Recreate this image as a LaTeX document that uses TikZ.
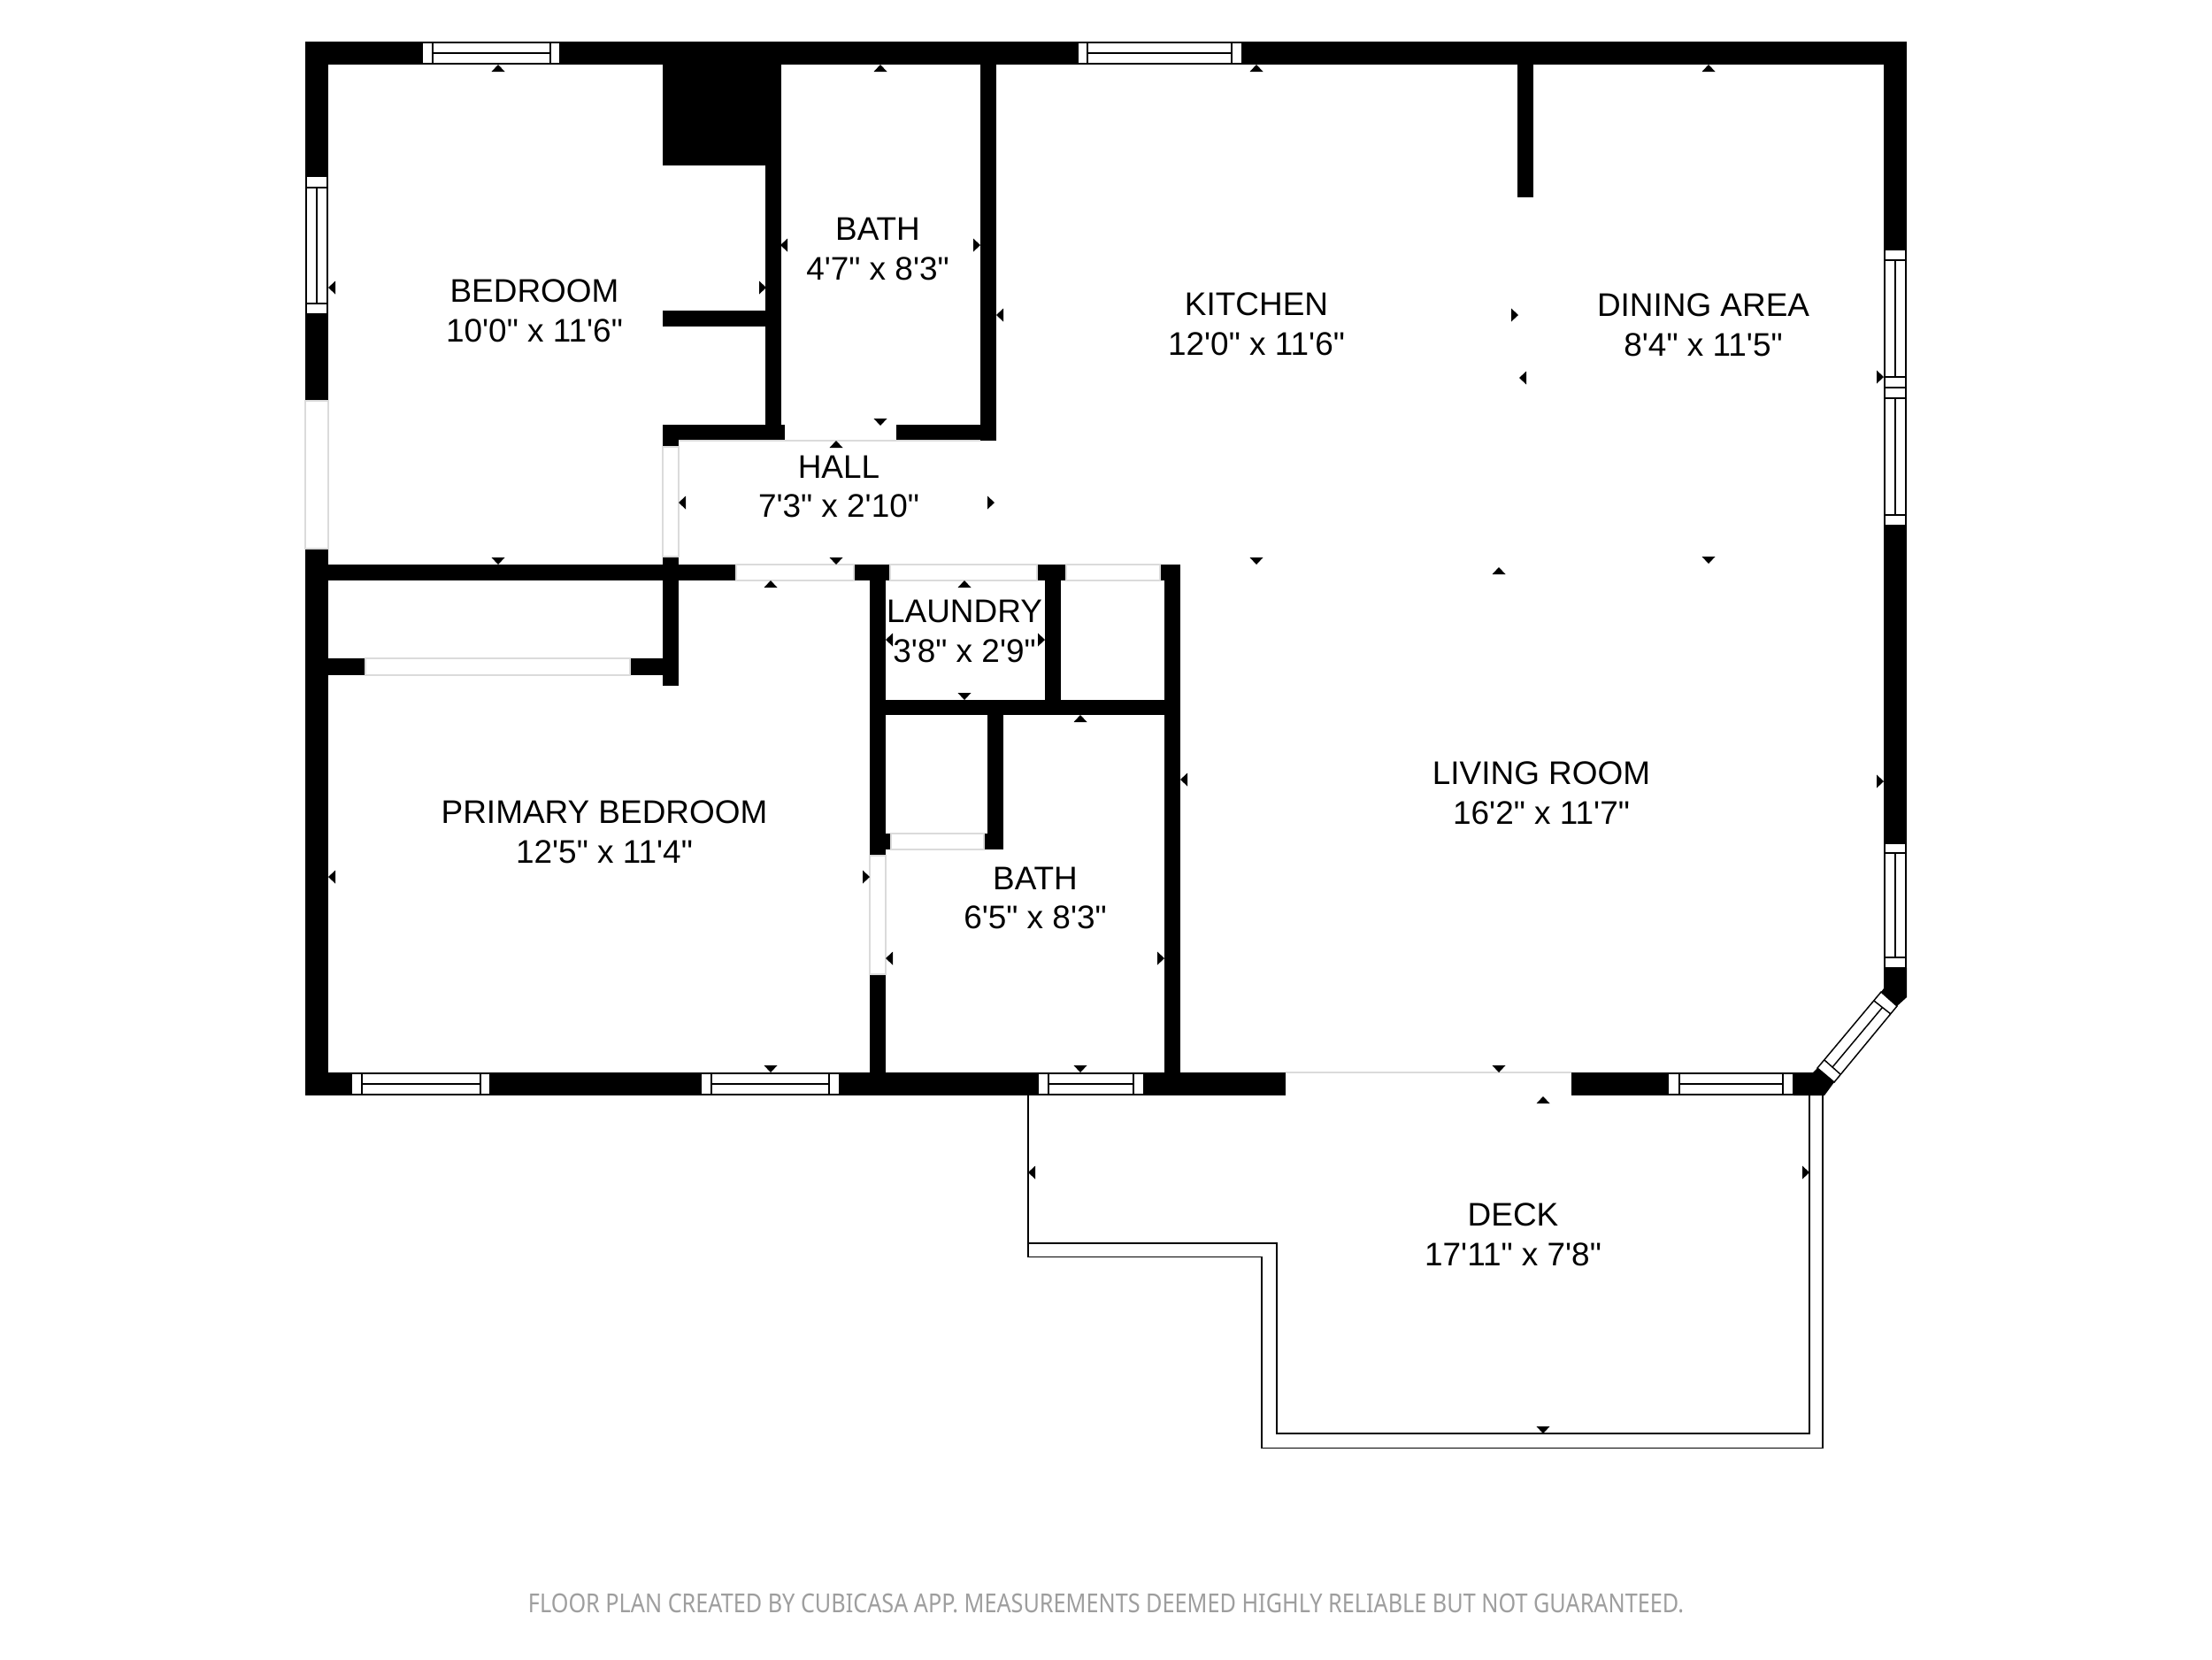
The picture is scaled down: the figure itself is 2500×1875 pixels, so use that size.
\documentclass[tikz,border=0pt]{standalone}
\usepackage{fontspec}
\newfontfamily\planfont{Liberation Sans}
\newfontfamily\notefont[FakeStretch=0.854]{Noto Sans}
\tikzset{
  wallpart/.style={fill=black},
  wallmark/.style={fill=black},
  pane/.style={draw=black,fill=white,line width=0.42pt},
  deckline/.style={draw=black,line width=0.5pt},
  doorline/.style={draw=black!14,line width=0.3pt},
  roomlabel/.style={font=\planfont\fontsize{10.5}{12.7}\selectfont,align=center,inner sep=0pt},
}
\begin{document}
\begin{tikzpicture}[x=0.01cm,y=-0.01cm]
\useasboundingbox (0,0) rectangle (2500,1875);

\draw[deckline] (1162,1238) -- (1162,1420.5) -- (1426,1420.5) -- (1426,1636.5) -- (2060,1636.5) -- (2060,1238);
\draw[deckline] (1162,1405) -- (1443,1405) -- (1443,1620) -- (2045,1620) -- (2045,1238);

\fill[wallpart] (345,47) rectangle (2155,73);
\fill[wallpart] (345,47) rectangle (371,453);
\fill[wallpart] (345,620) rectangle (371,1238);
\fill[wallpart] (345,1212) rectangle (1453,1238);
\fill[wallpart] (1776,1212) rectangle (2027,1238);
\fill[wallpart] (2129,47) rectangle (2155,1094);
\fill[wallpart] (2129,1094) -- (2155,1094) -- (2155,1127) -- (2144,1137) -- (2126,1121) -- (2129,1117) -- cycle;
\fill[wallpart] (2027,1212) -- (2049,1212) -- (2054,1207) -- (2073,1223) -- (2062,1238) -- (2027,1238) -- cycle;

\fill[wallpart] (749,73) rectangle (883,187);
\fill[wallpart] (865,187) rectangle (883,481);
\fill[wallpart] (749,351) rectangle (865,369);
\fill[wallpart] (749,480) rectangle (887,498);
\fill[wallpart] (749,498) rectangle (767,505);
\fill[wallpart] (1013,480) rectangle (1126,498);
\fill[wallpart] (1108,73) rectangle (1126,498);
\fill[wallpart] (1715,73) rectangle (1733,223);

\fill[wallpart] (371,638) rectangle (832,656);
\fill[wallpart] (749,629) rectangle (767,775);
\fill[wallpart] (371,744) rectangle (413,763);
\fill[wallpart] (712,744) rectangle (749,763);
\fill[wallpart] (965,638) rectangle (1006,656);
\fill[wallpart] (983,638) rectangle (1001,967);
\fill[wallpart] (1172,638) rectangle (1205,656);
\fill[wallpart] (1181,638) rectangle (1199,808);
\fill[wallpart] (1311,638) rectangle (1334,656);
\fill[wallpart] (1316,638) rectangle (1334,1238);
\fill[wallpart] (983,791) rectangle (1334,808);
\fill[wallpart] (1116,808) rectangle (1134,960);
\fill[wallpart] (1001,942) rectangle (1007,960);
\fill[wallpart] (1112,942) rectangle (1134,960);
\fill[wallpart] (983,1101) rectangle (1001,1238);

\draw[doorline] (345,453) rectangle (371,620);
\draw[doorline] (749,505) rectangle (767,629);
\draw[doorline] (767,498) -- (1108,498);
\draw[doorline] (832,638) rectangle (965,656);
\draw[doorline] (1006,638) rectangle (1172,656);
\draw[doorline] (1205,638) rectangle (1311,656);
\draw[doorline] (413,744) rectangle (712,763);
\draw[doorline] (1007,942) rectangle (1112,960);
\draw[doorline] (983,967) rectangle (1001,1101);
\draw[doorline] (1453,1212) -- (1776,1212);

\draw[pane] (477,48) rectangle (633,72) (489,48) -- (489,72) (622,48) -- (622,72) (489,60) -- (622,60);
\draw[pane] (1218,48) rectangle (1404,72) (1229,48) -- (1229,72) (1392,48) -- (1392,72) (1229,60) -- (1392,60);
\draw[pane] (346,199) rectangle (370,355) (346,212) -- (370,212) (346,343) -- (370,343) (358,212) -- (358,343);
\draw[pane] (2130,282) rectangle (2154,438) (2130,294) -- (2154,294) (2130,426) -- (2154,426) (2142,294) -- (2142,426);
\draw[pane] (2130,438) rectangle (2154,594) (2130,450) -- (2154,450) (2130,582) -- (2154,582) (2142,450) -- (2142,582);
\draw[pane] (2130,953) rectangle (2154,1094) (2130,964) -- (2154,964) (2130,1082) -- (2154,1082) (2142,964) -- (2142,1082);
\draw[pane] (397,1213) rectangle (554,1237) (409,1213) -- (409,1237) (543,1213) -- (543,1237) (409,1225) -- (543,1225);
\draw[pane] (792,1213) rectangle (949,1237) (804,1213) -- (804,1237) (937,1213) -- (937,1237) (804,1225) -- (937,1225);
\draw[pane] (1173,1213) rectangle (1293,1237) (1185,1213) -- (1185,1237) (1281,1213) -- (1281,1237) (1185,1225) -- (1281,1225);
\draw[pane] (1885,1213) rectangle (2027,1237) (1898,1213) -- (1898,1237) (2015,1213) -- (2015,1237) (1898,1225) -- (2015,1225);
\draw[pane] (2126,1121) -- (2144,1137) -- (2073,1223) -- (2054,1207) -- cycle (2118,1131) -- (2137,1146) (2062,1198) -- (2080,1214) (2127,1139) -- (2071,1206);

\fill[wallmark] (563,73) -- ++(-7.5,8) -- ++(15,0) -- cycle;
\fill[wallmark] (995,73) -- ++(-7.5,8) -- ++(15,0) -- cycle;
\fill[wallmark] (1420,73) -- ++(-7.5,8) -- ++(15,0) -- cycle;
\fill[wallmark] (1931,73) -- ++(-7.5,8) -- ++(15,0) -- cycle;
\fill[wallmark] (945,498) -- ++(-7.5,8) -- ++(15,0) -- cycle;
\fill[wallmark] (871,656) -- ++(-7.5,8) -- ++(15,0) -- cycle;
\fill[wallmark] (1090,656) -- ++(-7.5,8) -- ++(15,0) -- cycle;
\fill[wallmark] (1221,808) -- ++(-7.5,8) -- ++(15,0) -- cycle;
\fill[wallmark] (1694,641) -- ++(-7.5,8) -- ++(15,0) -- cycle;
\fill[wallmark] (1744,1239) -- ++(-7.5,8) -- ++(15,0) -- cycle;

\fill[wallmark] (995,481) -- ++(-7.5,-8) -- ++(15,0) -- cycle;
\fill[wallmark] (563,638) -- ++(-7.5,-8) -- ++(15,0) -- cycle;
\fill[wallmark] (945,638) -- ++(-7.5,-8) -- ++(15,0) -- cycle;
\fill[wallmark] (1420,638) -- ++(-7.5,-8) -- ++(15,0) -- cycle;
\fill[wallmark] (1931,637) -- ++(-7.5,-8) -- ++(15,0) -- cycle;
\fill[wallmark] (1090,791) -- ++(-7.5,-8) -- ++(15,0) -- cycle;
\fill[wallmark] (871,1212) -- ++(-7.5,-8) -- ++(15,0) -- cycle;
\fill[wallmark] (1221,1212) -- ++(-7.5,-8) -- ++(15,0) -- cycle;
\fill[wallmark] (1694,1212) -- ++(-7.5,-8) -- ++(15,0) -- cycle;
\fill[wallmark] (1744,1620) -- ++(-7.5,-8) -- ++(15,0) -- cycle;

\fill[wallmark] (371,325) -- ++(8,-7.5) -- ++(0,15) -- cycle;
\fill[wallmark] (882,277) -- ++(8,-7.5) -- ++(0,15) -- cycle;
\fill[wallmark] (1126,356) -- ++(8,-7.5) -- ++(0,15) -- cycle;
\fill[wallmark] (767,568) -- ++(8,-7.5) -- ++(0,15) -- cycle;
\fill[wallmark] (1001,723) -- ++(8,-7.5) -- ++(0,15) -- cycle;
\fill[wallmark] (1334,881) -- ++(8,-7.5) -- ++(0,15) -- cycle;
\fill[wallmark] (371,991) -- ++(8,-7.5) -- ++(0,15) -- cycle;
\fill[wallmark] (1001,1083) -- ++(8,-7.5) -- ++(0,15) -- cycle;
\fill[wallmark] (1717,427) -- ++(8,-7.5) -- ++(0,15) -- cycle;
\fill[wallmark] (1162,1325) -- ++(8,-7.5) -- ++(0,15) -- cycle;

\fill[wallmark] (866,325) -- ++(-8,-7.5) -- ++(0,15) -- cycle;
\fill[wallmark] (1108,277) -- ++(-8,-7.5) -- ++(0,15) -- cycle;
\fill[wallmark] (1124,568) -- ++(-8,-7.5) -- ++(0,15) -- cycle;
\fill[wallmark] (1181,723) -- ++(-8,-7.5) -- ++(0,15) -- cycle;
\fill[wallmark] (983,991) -- ++(-8,-7.5) -- ++(0,15) -- cycle;
\fill[wallmark] (1316,1083) -- ++(-8,-7.5) -- ++(0,15) -- cycle;
\fill[wallmark] (1716,356) -- ++(-8,-7.5) -- ++(0,15) -- cycle;
\fill[wallmark] (2129,426) -- ++(-8,-7.5) -- ++(0,15) -- cycle;
\fill[wallmark] (2129,883) -- ++(-8,-7.5) -- ++(0,15) -- cycle;
\fill[wallmark] (2045,1325) -- ++(-8,-7.5) -- ++(0,15) -- cycle;

\node[roomlabel] (bedroom) at (604,351) {BEDROOM\\10'0" x 11'6"};
\node[roomlabel] (bathupper) at (992,281.5) {BATH\\4'7" x 8'3"};
\node[roomlabel] (kitchen) at (1420,366) {KITCHEN\\12'0" x 11'6"};
\node[roomlabel] (dining) at (1925,367.5) {DINING AREA\\8'4" x 11'5"};
\node[roomlabel] (hall) at (948,550) {HALL\\7'3" x 2'10"};
\node[roomlabel] (laundry) at (1090,713.5) {LAUNDRY\\3'8" x 2'9"};
\node[roomlabel] (primary) at (683,940) {PRIMARY BEDROOM\\12'5" x 11'4"};
\node[roomlabel] (bathlower) at (1170,1015) {BATH\\6'5" x 8'3"};
\node[roomlabel] (living) at (1742,896) {LIVING ROOM\\16'2" x 11'7"};
\node[roomlabel] (deck) at (1710,1395) {DECK\\17'11" x 7'8"};

\node[font=\notefont\fontsize{8.4}{10}\selectfont,text=black!38,inner sep=0pt] (note) at (1250,1812) {FLOOR PLAN CREATED BY CUBICASA APP. MEASUREMENTS DEEMED HIGHLY RELIABLE BUT NOT GUARANTEED.};
\end{tikzpicture}
\end{document}
